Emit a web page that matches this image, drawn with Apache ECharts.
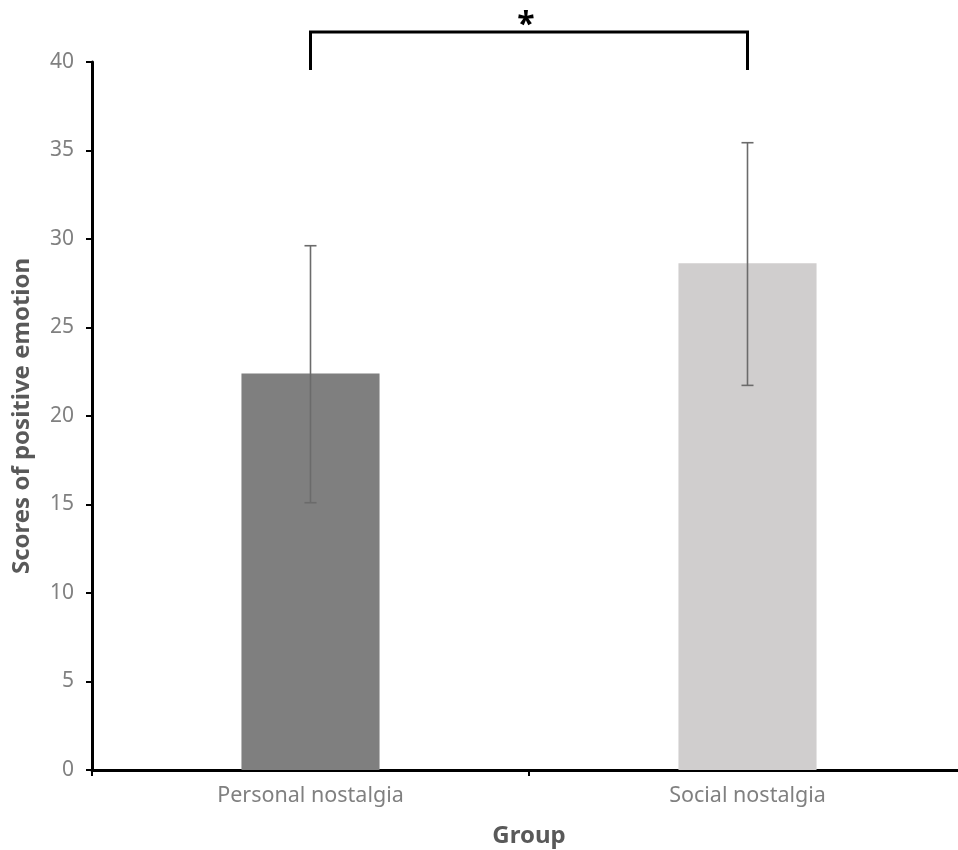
<!DOCTYPE html>
<html>
<head>
<meta charset="utf-8">
<script src="https://cdn.jsdelivr.net/npm/echarts@6/dist/echarts.min.js"></script>
<style>html,body{margin:0;padding:0;background:#fff}#c{width:958px;height:850px}</style>
</head>
<body>
<div id="c"></div>
<script>
const categories = ['Personal nostalgia', 'Social nostalgia'];
const means = [22.4, 28.63];
const errLow = [15.1, 21.73];
const errHigh = [29.62, 35.44];
const barColors = ['#7f7f7f', '#d0cece'];
const yTicks = [0, 5, 10, 15, 20, 25, 30, 35, 40];
const sigBracket = [[0, 1, 41.7, 39.55, '*']];

const FONT = "'Noto Sans', sans-serif";
const chart = echarts.init(document.getElementById('c'), null, {renderer: 'canvas'});
chart.setOption({
  animation: false,
  backgroundColor: '#fff',
  grid: {left: 92, top: 62, height: 708, width: 874, containLabel: false, outerBoundsMode: 'none'},
  xAxis: {
    type: 'category',
    data: categories,
    name: 'Group',
    nameLocation: 'middle',
    nameGap: 54,
    nameTextStyle: {fontFamily: FONT, fontSize: 24, fontWeight: 'bold', color: '#595959'},
    axisLine: {lineStyle: {color: '#000', width: 3}},
    axisTick: {show: true, length: 6, lineStyle: {color: '#000', width: 2}},
    axisLabel: {fontFamily: FONT, fontSize: 21.5, color: '#808080', margin: 15}
  },
  yAxis: {
    type: 'value',
    min: yTicks[0],
    max: yTicks[yTicks.length - 1],
    interval: 5,
    name: 'Scores of positive emotion',
    nameLocation: 'middle',
    nameGap: 58,
    nameTextStyle: {fontFamily: FONT, fontSize: 24, fontWeight: 'bold', color: '#595959'},
    axisLine: {show: true, lineStyle: {color: '#000', width: 3}},
    axisTick: {show: true, length: 6, lineStyle: {color: '#000', width: 2}},
    axisLabel: {fontFamily: FONT, fontSize: 21, color: '#808080', margin: 18},
    splitLine: {show: false}
  },
  series: [
    {
      type: 'bar',
      barWidth: '31.6%',
      data: means.map((v, i) => ({value: v, itemStyle: {color: barColors[i]}})),
      z: 2
    },
    {
      type: 'custom',
      z: 5,
      data: categories.map((c, i) => [i, errLow[i], errHigh[i]]),
      renderItem: function (params, api) {
        const x = api.value(0);
        const lo = api.coord([x, api.value(1)]);
        const hi = api.coord([x, api.value(2)]);
        const hw = 6;
        const style = {stroke: '#6b6b6b', lineWidth: 1.6};
        return {
          type: 'group',
          children: [
            {type: 'line', shape: {x1: lo[0], y1: lo[1], x2: hi[0], y2: hi[1]}, style},
            {type: 'line', shape: {x1: hi[0] - hw, y1: hi[1], x2: hi[0] + hw, y2: hi[1]}, style},
            {type: 'line', shape: {x1: lo[0] - hw, y1: lo[1], x2: lo[0] + hw, y2: lo[1]}, style}
          ]
        };
      }
    },
    {
      type: 'custom',
      z: 5,
      clip: false,
      data: sigBracket,
      renderItem: function (params, api) {
        const a = api.coord([api.value(0), api.value(2)]);
        const b = api.coord([api.value(1), api.value(2)]);
        const aLow = api.coord([api.value(0), api.value(3)]);
        const bLow = api.coord([api.value(1), api.value(3)]);
        const style = {stroke: '#000', lineWidth: 3, fill: null};
        return {
          type: 'group',
          children: [
            {type: 'polyline', shape: {points: [[aLow[0], aLow[1]], [a[0], a[1]], [b[0], b[1]], [bLow[0], bLow[1]]]}, style},
            {type: 'text', x: (a[0] + b[0]) / 2 - 3, y: a[1] - 22,
              style: {text: sigBracket[0][4], fontSize: 32, fontWeight: 'bold', fontFamily: FONT, fill: '#000', align: 'center', verticalAlign: 'top'}}
          ]
        };
      }
    }
  ]
});
</script>
</body>
</html>
